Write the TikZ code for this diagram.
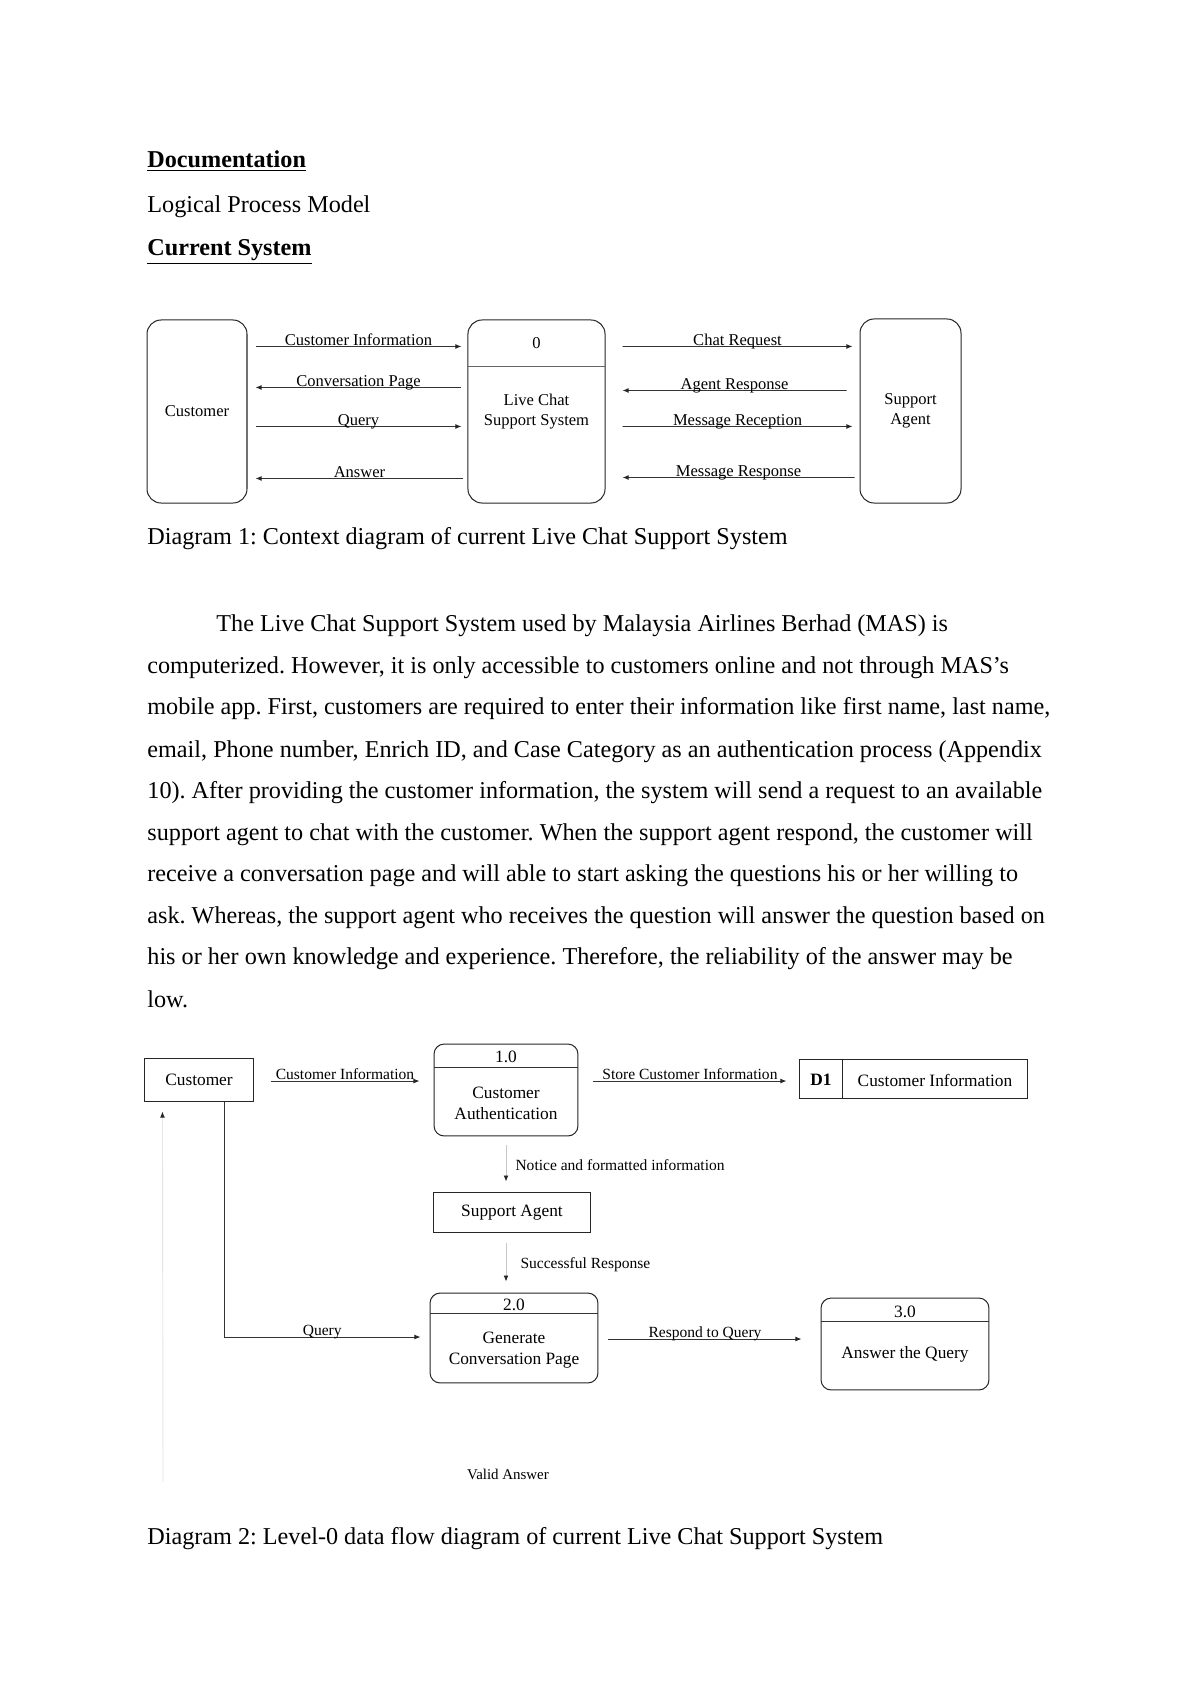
\documentclass[tikz,border=0pt]{standalone}
\usepackage{fontspec}
\setmainfont{Liberation Serif}
\usetikzlibrary{calc,arrows.meta}
\frenchspacing

\newcommand{\bodyfont}{\fontsize{12}{14}\selectfont}
\newcommand{\ctxfont}{\fontsize{8.2}{10}\selectfont}
\newcommand{\dfdfont}{\fontsize{8.6}{10.4}\selectfont}
\newcommand{\flowfont}{\fontsize{7.7}{9}\selectfont}

\begin{document}
\begin{tikzpicture}[x=0.49606pt,y=-0.49606pt,
  ent/.style={draw=black!85, line width=0.5pt, rounded corners=7pt, inner sep=0pt},
  box/.style={draw=black!85, line width=0.5pt, inner sep=0pt},
  flow/.style={draw=black!80, line width=0.45pt, -{Latex[length=3pt,width=2.4pt,color=black!85]}},
  clbl/.style={anchor=base, inner sep=0pt, yshift=0.6pt, font=\ctxfont},
  dlbl/.style={anchor=base, inner sep=0pt, yshift=0.6pt, font=\flowfont},
  body/.style={anchor=base west, inner sep=0pt, font=\bodyfont}]
\fill[white] (0,0) rectangle (1200,1696);
\useasboundingbox (0,0) rectangle (1200,1696);

% headings
\node[body] (doc) at (147,167) {\textbf{\underline{Documentation}}};
\node[body] (lpm) at (147,212) {Logical Process Model};
\node[body] (cur) at (147,255) {\textbf{\underline{Current System}}};

% context diagram
\node[ent, minimum width=49.6pt, minimum height=90.8pt, font=\ctxfont] (cust) at (197,411.5) {Customer};
\node[ent, minimum width=68pt, minimum height=90.8pt] (live) at (536.5,411.5) {};
\draw[black!60, line width=0.4pt] ($(live.north west)+(0,47)$) -- ($(live.north east)+(0,47)$);
\node[font=\ctxfont] (livenum) at ($(live.north)+(0,24)$) {0};
\node[font=\ctxfont, align=center] (livetxt) at (live.center) {Live Chat\\Support System};
\node[ent, minimum width=50.1pt, minimum height=91.3pt, font=\ctxfont, align=center] (agent) at (910.5,411) {Support\\Agent};

\draw[flow] ($(cust.north east)+(8,27)$) -- node[clbl]{Customer Information} ($(live.north west)+(-6,27)$);
\draw[flow] ($(live.north west)+(-6,68)$) -- node[clbl]{Conversation Page} ($(cust.north east)+(8,68)$);
\draw[flow] ($(cust.north east)+(8,107)$) -- node[clbl]{Query} ($(live.north west)+(-6,107)$);
\draw[flow] ($(live.north west)+(-4,159)$) -- node[clbl]{Answer} ($(cust.north east)+(8,159)$);
\draw[flow] ($(live.north east)+(17,27)$) -- node[clbl]{Chat Request} ($(agent.north west)+(-7,28)$);
\draw[flow] ($(agent.north west)+(-13,72)$) -- node[clbl]{Agent Response} ($(live.north east)+(17,71)$);
\draw[flow] ($(live.north east)+(17,107)$) -- node[clbl]{Message Reception} ($(agent.north west)+(-7,108)$);
\draw[flow] ($(agent.north west)+(-5,159)$) -- node[clbl]{Message Response} ($(live.north east)+(17,158)$);

\node[body] (cap1) at (147,544) {Diagram 1: Context diagram of current Live Chat Support System};

% paragraph
\node[body] (l1) at (216,631) {The Live Chat Support System used by Malaysia Airlines Berhad (MAS) is};
\node[body] (l2) at (147,673) {computerized. However, it is only accessible to customers online and not through MAS's};
\node[body] (l3) at (147,714) {mobile app. First, customers are required to enter their information like first name, last name,};
\node[body] (l4) at (147,757) {email, Phone number, Enrich ID, and Case Category as an authentication process (Appendix};
\node[body] (l5) at (147,798) {10). After providing the customer information, the system will send a request to an available};
\node[body] (l6) at (147,840) {support agent to chat with the customer. When the support agent respond, the customer will};
\node[body] (l7) at (147,881) {receive a conversation page and will able to start asking the questions his or her willing to};
\node[body] (l8) at (147,923) {ask. Whereas, the support agent who receives the question will answer the question based on};
\node[body] (l9) at (147,964) {his or her own knowledge and experience. Therefore, the reliability of the answer may be};
\node[body] (l10) at (147,1007) {low.};

% level-0 dfd
\node[box, minimum width=53.6pt, minimum height=21.8pt, font=\dfdfont] (cust2) at (199,1080) {Customer};
\node[ent, rounded corners=5pt, minimum width=71.4pt, minimum height=45.6pt] (p1) at (506,1090) {};
\draw[black!80, line width=0.5pt] ($(p1.north west)+(0,24)$) -- ($(p1.north east)+(0,24)$);
\node[font=\dfdfont] (p1num) at ($(p1.north)+(0,13)$) {1.0};
\node[font=\dfdfont, align=center] (p1txt) at ($(p1.center)+(0,13)$) {Customer\\Authentication};

\node[box, minimum width=113.1pt, minimum height=19.8pt] (d1) at (913,1079) {};
\draw[black!85, line width=0.5pt] ($(d1.north west)+(44,0)$) -- ($(d1.south west)+(44,0)$);
\node[font=\dfdfont\bfseries] (d1id) at (821,1080) {D1};
\node[font=\dfdfont] (d1txt) at (935,1080) {Customer Information};

\node[box, minimum width=77.4pt, minimum height=20.3pt, font=\dfdfont] (sa) at (512,1212.5) {Support Agent};

\node[ent, rounded corners=5pt, minimum width=83.3pt, minimum height=44.6pt] (p2) at (514,1338) {};
\draw[black!80, line width=0.5pt] ($(p2.north west)+(0,21)$) -- ($(p2.north east)+(0,21)$);
\node[font=\dfdfont] (p2num) at ($(p2.north)+(0,12)$) {2.0};
\node[font=\dfdfont, align=center] (p2txt) at ($(p2.center)+(0,12)$) {Generate\\Conversation Page};

\node[ent, rounded corners=5pt, minimum width=83.3pt, minimum height=45.6pt] (p3) at (905,1344) {};
\draw[black!80, line width=0.5pt] ($(p3.north west)+(0,24)$) -- ($(p3.north east)+(0,24)$);
\node[font=\dfdfont] (p3num) at ($(p3.north)+(0,14)$) {3.0};
\node[font=\dfdfont] (p3txt) at ($(p3.center)+(0,10)$) {Answer the Query};

\draw[flow] ($(cust2.east)+(17,1)$) -- node[dlbl]{Customer Information} ($(cust2.east -| p1.west)+(-14,1)$);
\draw[flow] ($(cust2.east -| p1.east)+(15,1)$) -- node[dlbl]{Store Customer Information} ($(cust2.east -| d1.west)+(-12,1)$);
\draw[flow, draw=black!22] ($(p1.south)+(0,9)$) -- node[anchor=west, inner sep=0pt, xshift=4.5pt, yshift=-1pt, font=\flowfont]{Notice and formatted information} ($(p1.south |- sa.north)+(0,-10)$);
\draw[flow, draw=black!22] ($(p1.south |- sa.south)+(0,10)$) -- node[anchor=west, inner sep=0pt, xshift=7pt, yshift=-1pt, font=\flowfont]{Successful Response} ($(p1.south |- p2.north)+(0,-11)$);
\draw[flow] ($(cust2.south)+(25,0)$) |- node[dlbl, pos=0.75]{Query} ($(p2.west)+(-9,-1)$);
\draw[flow] ($(p2.east)+(10,1)$) -- node[dlbl]{Respond to Query} ($(p3.west |- p2.east)+(-19,1)$);

\coordinate (vabot) at (163,1482);
\draw[draw=black!10, line width=0.45pt, -{Latex[length=3pt,width=2.4pt,color=black!85]}] (vabot) -- ($(cust2.south west)+(18,9)$);
\node[font=\fontsize{7.4}{9}\selectfont] (va) at (508,1474) {Valid Answer};

\node[body] (cap2) at (147,1544) {Diagram 2: Level-0 data flow diagram of current Live Chat Support System};
\end{tikzpicture}
\end{document}
